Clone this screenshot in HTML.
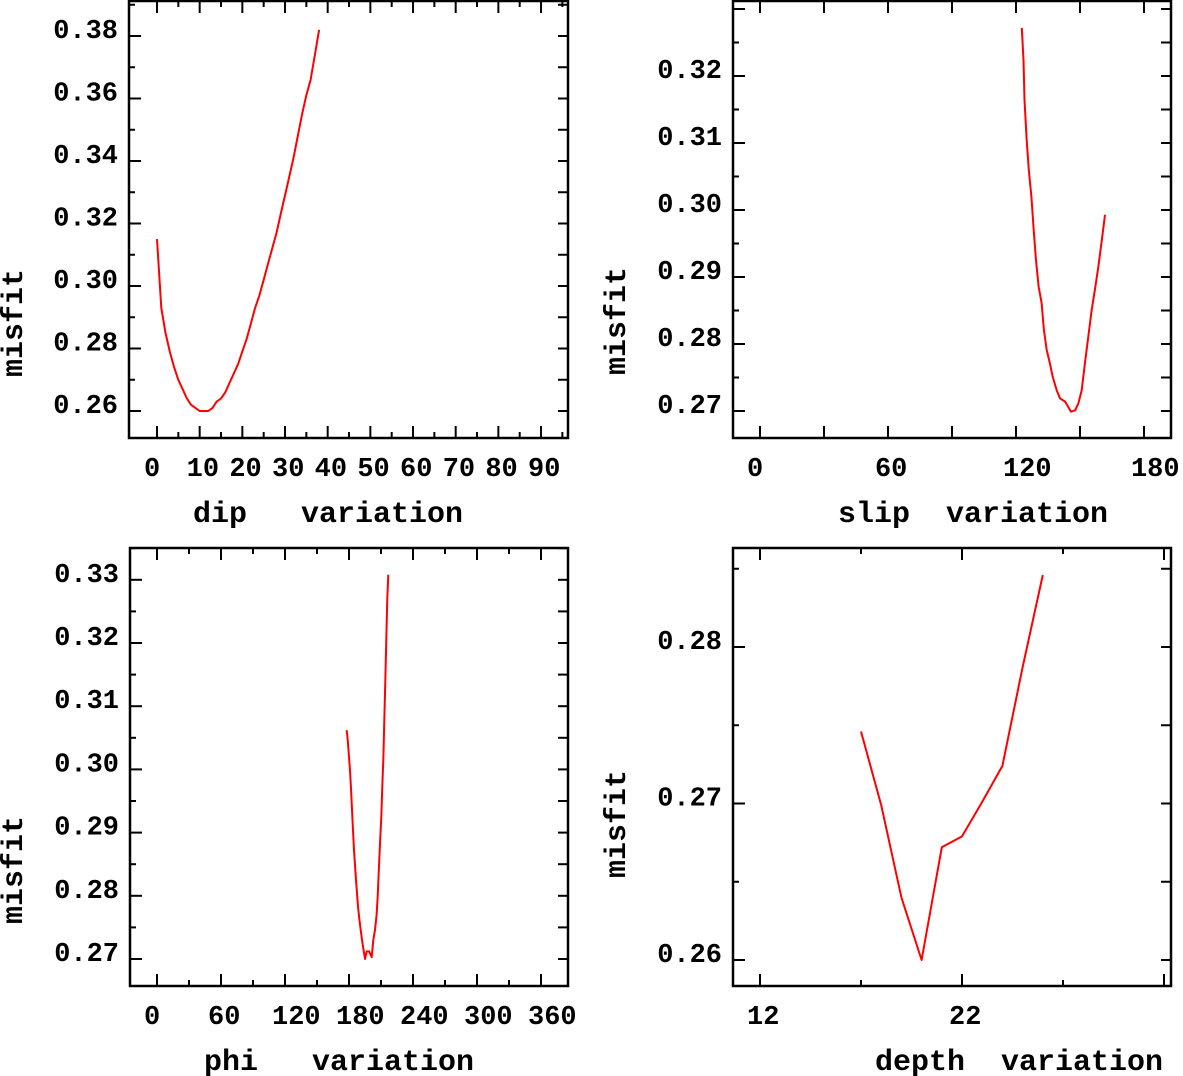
<!DOCTYPE html>
<html><head><meta charset="utf-8"><style>
html,body{margin:0;padding:0;background:#fff;}
svg{display:block;}
text{font-family:"Liberation Mono",monospace;fill:#000;white-space:pre;}
.tk{font-size:27px;font-weight:bold;}
.tt{font-size:30px;font-weight:bold;}
</style></head><body>
<svg id="fig" width="1183" height="1076" viewBox="0 0 1183 1076" xmlns="http://www.w3.org/2000/svg"></svg>
<script>
// ---- data ----
const dipX = [0,1,2,3,4,5,6,7,8,9,10,11,12,13,14,15,16,17,18,19,20,21,22,23,24,25,26,27,28,29,30,31,32,33,34,35,36,37,38];
const dipMisfit = [0.315,0.293,0.285,0.279,0.274,0.270,0.267,0.264,0.262,0.261,0.260,0.260,0.260,0.261,0.263,0.264,0.266,0.269,0.272,0.275,0.279,0.283,0.288,0.293,0.297,0.302,0.307,0.312,0.317,0.323,0.329,0.335,0.341,0.348,0.355,0.361,0.366,0.374,0.382];
const slipX = [122.7,123.5,124.0,125.0,126.0,127.2,128.3,129.4,130.6,132.0,133.1,134.4,135.9,137.2,139.1,140.6,143.0,144.5,145.8,147.7,149.2,150.8,152.3,153.9,155.5,157.0,158.6,160.2,161.7];
const slipMisfit = [0.3272,0.3224,0.3164,0.3104,0.3060,0.3020,0.2970,0.2925,0.2886,0.2861,0.2821,0.2791,0.2771,0.2751,0.2731,0.2719,0.2714,0.2706,0.2699,0.2701,0.2711,0.2731,0.2771,0.2811,0.2851,0.2881,0.2915,0.2955,0.2993];
const phiX = [177.8,178.8,180,181,182,182.8,183.8,184.7,185.6,186.6,187.5,188.4,189.7,191,192.2,193.4,195,196.6,198.8,201.3,202.8,204.4,205.9,206.9,207.8,209.1,210.3,211.2,212.2,213.1,214,214.9,215.9,216.8];
const phiMisfit = [0.3062,0.3047,0.3020,0.2996,0.2967,0.2936,0.2901,0.2872,0.2849,0.2825,0.2804,0.2783,0.2762,0.2746,0.2730,0.2717,0.2700,0.2712,0.2712,0.2703,0.2730,0.2746,0.2770,0.2799,0.2836,0.2883,0.2925,0.2973,0.3020,0.3078,0.3139,0.3200,0.3271,0.3308];
const depthX = [17,18,19,20,21,22,23,24,25,26];
const depthMisfit = [0.2746,0.2699,0.2640,0.2600,0.2672,0.2679,0.2701,0.2724,0.2787,0.2846];
const dipXTicks = ["0","10","20","30","40","50","60","70","80","90"];
const dipYTicks = ["0.26","0.28","0.30","0.32","0.34","0.36","0.38"];
const slipXTicks = ["0","60","120","180"];
const slipYTicks = ["0.27","0.28","0.29","0.30","0.31","0.32"];
const phiXTicks = ["0","60","120","180","240","300","360"];
const phiYTicks = ["0.27","0.28","0.29","0.30","0.31","0.32","0.33"];
const depthXTicks = ["12","22"];
const depthYTicks = ["0.26","0.27","0.28"];

const NS="http://www.w3.org/2000/svg";
const svg=document.getElementById('fig');
function mk(tag,attrs,parent){const e=document.createElementNS(NS,tag);for(const k in attrs)e.setAttribute(k,attrs[k]);(parent||svg).appendChild(e);return e;}

function panel(p){
  const g=mk('g',{});
  
  
  const sx=v=>p.x0px+(v-p.x0)*p.xs;
  const sy=v=>p.y0px-(v-p.y0)*p.ys;
  const fr=mk('rect',{x:p.L,y:p.T,width:p.R-p.L,height:p.B-p.T,fill:'none',stroke:'#000','stroke-width':2.5},g);
  
  
  for(let v=p.xmin;v<=p.xmax+1e-9;v+=p.xminor){
    const px=sx(v); if(px<p.L||px>p.R)continue;
    const major=Math.abs(((v-p.x0)/p.xmajor)-Math.round((v-p.x0)/p.xmajor))<1e-6;
    const len=major?12:6;
    mk('line',{x1:px,y1:p.B,x2:px,y2:p.B-len,stroke:'#000','stroke-width':2},g);
    mk('line',{x1:px,y1:p.T,x2:px,y2:p.T+len,stroke:'#000','stroke-width':2},g);
  }
  for(let v=p.ymin;v<=p.ymax+1e-9;v+=p.yminor){
    const py=sy(v); if(py<p.T||py>p.B)continue;
    const major=Math.abs(((v-p.y0)/p.ymajor)-Math.round((v-p.y0)/p.ymajor))<1e-6;
    const len=major?12:6;
    mk('line',{x1:p.L,y1:py,x2:p.L+len,y2:py,stroke:'#000','stroke-width':2},g);
    mk('line',{x1:p.R,y1:py,x2:p.R-10,y2:py,stroke:'#000','stroke-width':2},g);
  }
  p.xt.forEach(s=>{
    const t=mk('text',{x:sx(parseFloat(s))-13,y:p.B+38,class:'tk'},g);t.textContent=s;
    
    
  });
  p.yt.forEach(s=>{
    const t=mk('text',{x:p.L-11,y:sy(parseFloat(s))+2,class:'tk','text-anchor':'end'},g);t.textContent=s;
    
    
  });
  const xt=mk('text',{x:p.xtx,y:p.B+84,class:'tt'},g);xt.textContent=p.xtitle;
  
  
  const yt=mk('text',{x:0,y:0,class:'tt','text-anchor':'middle',transform:`translate(${p.ytx},${p.yty}) rotate(-90)`},g);yt.textContent='misfit';
  
  
  const pts=p.xs_.map((v,i)=>sx(v).toFixed(1)+','+sy(p.ys_[i]).toFixed(1)).join(' ');
  const ln=mk('polyline',{points:pts,fill:'none',stroke:'#f00','stroke-width':2,'stroke-linejoin':'round'},g);
  
  
}

panel({name:'dip',L:129,R:568,T:1,B:438,x0:0,x0px:157,xs:4.267,y0:0.26,y0px:411,ys:3125,
  xmin:0,xmax:100,xminor:5,xmajor:10,ymin:0.25,ymax:0.40,yminor:0.01,ymajor:0.02,
  xt:dipXTicks,yt:dipYTicks,xtitle:'dip   variation',xtx:193,ytx:22,yty:323,xs_:dipX,ys_:dipMisfit});
panel({name:'slip',L:733,R:1171,T:1,B:438,x0:0,x0px:760,xs:2.1333,y0:0.27,y0px:411,ys:6700,
  xmin:0,xmax:200,xminor:30,xmajor:30,ymin:0.265,ymax:0.335,yminor:0.005,ymajor:0.01,
  xt:slipXTicks,yt:slipYTicks,xtitle:'slip  variation',xtx:838,ytx:625,yty:321,xs_:slipX,ys_:slipMisfit});
panel({name:'phi',L:130,R:568,T:548,B:986,x0:0,x0px:157,xs:1.0667,y0:0.27,y0px:959,ys:6320,
  xmin:0,xmax:400,xminor:30,xmajor:60,ymin:0.265,ymax:0.335,yminor:0.005,ymajor:0.01,
  xt:phiXTicks,yt:phiYTicks,xtitle:'phi   variation',xtx:204,ytx:22,yty:870,xs_:phiX,ys_:phiMisfit});
panel({name:'depth',L:733,R:1171,T:548,B:986,x0:12,x0px:760,xs:20.2,y0:0.26,y0px:960,ys:15650,
  xmin:12,xmax:33,xminor:5,xmajor:10,ymin:0.255,ymax:0.29,yminor:0.005,ymajor:0.01,
  xt:depthXTicks,yt:depthYTicks,xtitle:'depth  variation',xtx:875,ytx:625,yty:824,xs_:depthX,ys_:depthMisfit});
</script>
</body></html>
